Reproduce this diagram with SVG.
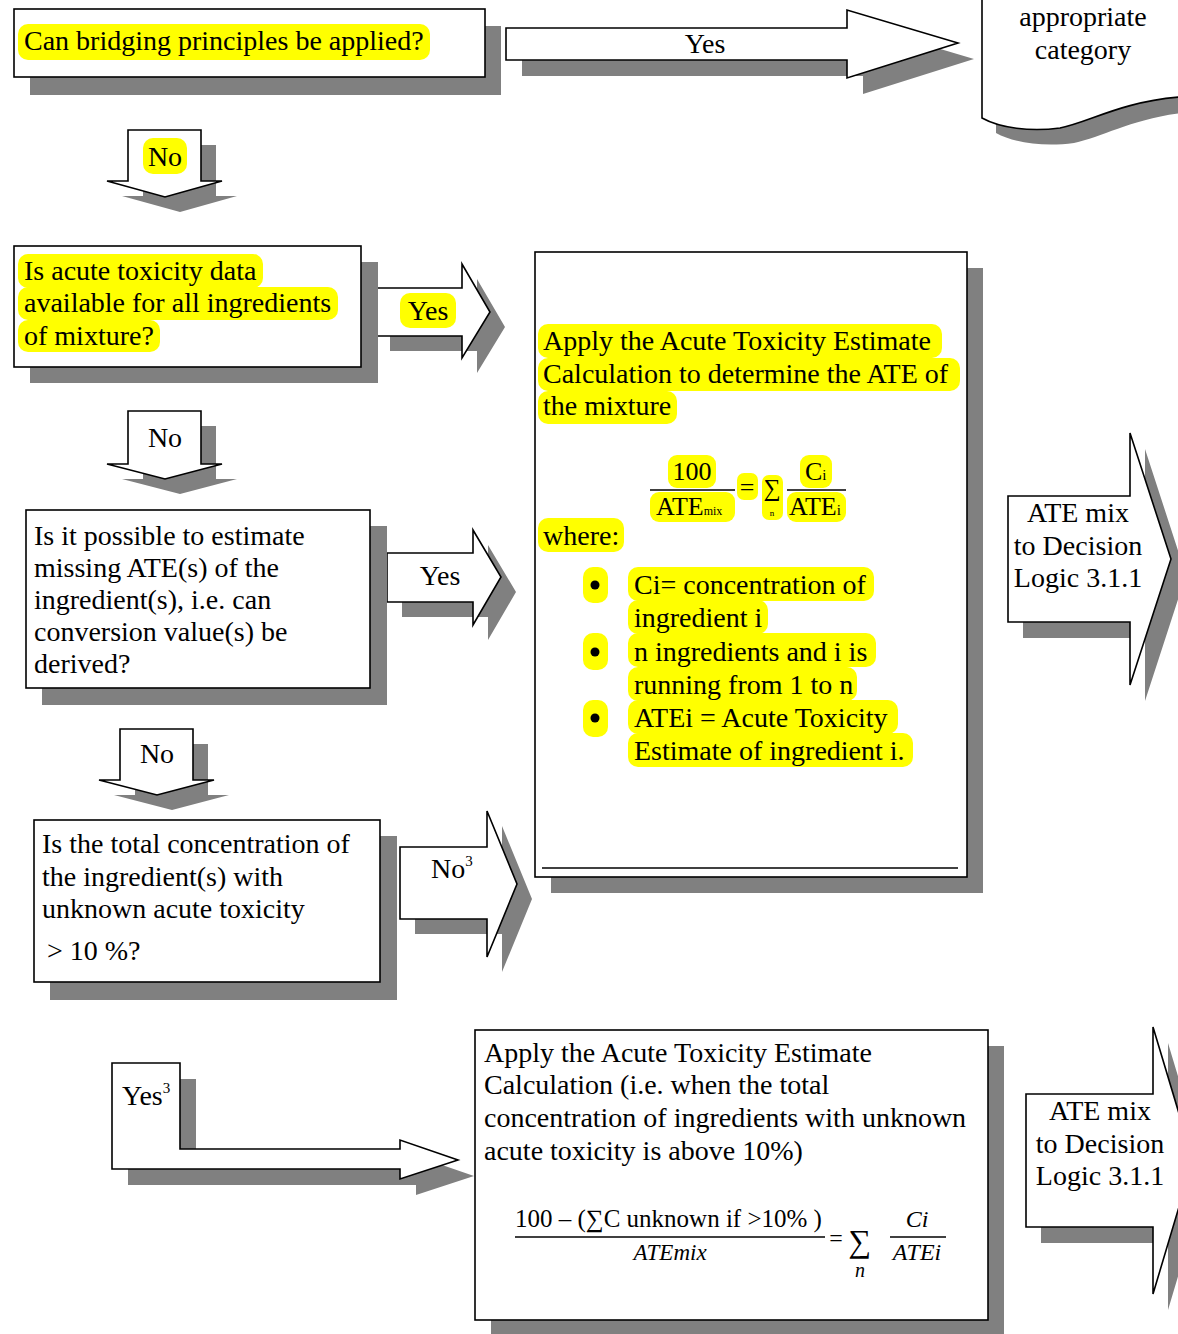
<svg xmlns="http://www.w3.org/2000/svg" width="1178" height="1334" viewBox="0 0 1178 1334">
<style>
.t{font-family:"Liberation Serif","Tinos","Times New Roman","DejaVu Serif",serif;font-size:28px;fill:#000}
.m{text-anchor:middle}
.sh{fill:#808080;stroke:none}
.sp{fill:#fff;stroke:#000;stroke-width:1.6}
.hl{fill:#ffff00;stroke:none}
.it{font-style:italic}
</style>
<rect width="1178" height="1334" fill="#fff"/>

<g id="connectors">
  <g id="arrow-yes-1">
    <path class="sh" d="M522,44 H863 V26 L974,59 L863,94 V76 H522 Z"/>
    <path class="sp" d="M506,28 H847 V10 L958,43 L847,78 V60 H506 Z"/>
    <text class="t m" x="705" y="53">Yes</text>
  </g>
  <g id="arrow-no-1">
    <path class="sh" d="M143,145 H216 V196 H237 L180,212 L122,196 H143 Z"/>
    <path class="sp" d="M128,130 H201 V181 H222 L165,197 L107,181 H128 Z"/>
    <rect class="hl" x="143" y="138" width="44" height="36" rx="10"/>
    <text class="t m" x="165" y="166">No</text>
  </g>
  <g id="arrow-yes-2">
    <path class="sh" d="M390,303 H477 V279 L505,327 L477,373 V351 H390 Z"/>
    <path class="sp" d="M375,288 H462 V264 L490,312 L462,358 V336 H375 Z"/>
    <rect class="hl" x="400" y="293" width="56" height="35" rx="10"/>
    <text class="t m" x="428" y="320">Yes</text>
  </g>
  <g id="arrow-no-2">
    <path class="sh" d="M143,426 H216 V479 H237 L180,494 L122,479 H143 Z"/>
    <path class="sp" d="M128,411 H201 V464 H222 L165,479 L107,464 H128 Z"/>
    <text class="t m" x="165" y="447">No</text>
  </g>
  <g id="arrow-yes-3">
    <path class="sh" d="M402,568 H488 V545 L516,592 L488,640 V617 H402 Z"/>
    <path class="sp" d="M387,553 H473 V530 L501,577 L473,625 V602 H387 Z"/>
    <text class="t m" x="440" y="585">Yes</text>
  </g>
  <g id="arrow-no-3">
    <path class="sh" d="M135,744 H208 V795 H229 L172,810 L114,795 H135 Z"/>
    <path class="sp" d="M120,729 H193 V780 H214 L157,795 L99,780 H120 Z"/>
    <text class="t m" x="157" y="763">No</text>
  </g>
  <g id="arrow-no3">
    <path class="sh" d="M415,862 H502 V826 L532,899 L502,972 V934 H415 Z"/>
    <path class="sp" d="M400,847 H487 V811 L517,884 L487,957 V919 H400 Z"/>
    <text class="t" x="431" y="878">No<tspan style="font-size:15px" dy="-12">3</tspan></text>
  </g>
  <g id="arrow-yes3">
    <path class="sh" d="M128,1079 H196 V1165 H416 V1156 L474,1176 L416,1195 V1185 H128 Z"/>
    <path class="sp" d="M112,1063 H180 V1149 H400 V1140 L458,1160 L400,1179 V1169 H112 Z"/>
    <text class="t" x="122" y="1105">Yes<tspan style="font-size:15px" dy="-12">3</tspan></text>
  </g>
  <g id="arrow-ate-1">
    <path class="sh" d="M1023,512 H1145 V449 L1186,575 L1145,701 V638 H1023 Z"/>
    <path class="sp" d="M1008,496 H1130 V433 L1171,559 L1130,685 V622 H1008 Z"/>
    <text class="t m" x="1078" y="522">ATE mix</text>
    <text class="t m" x="1078" y="555">to Decision</text>
    <text class="t m" x="1078" y="587">Logic 3.1.1</text>
  </g>
  <g id="arrow-ate-2">
    <path class="sh" d="M1041,1110 H1168 V1043 L1208,1176 L1168,1310 V1243 H1041 Z"/>
    <path class="sp" d="M1026,1094 H1153 V1027 L1193,1160 L1153,1294 V1227 H1026 Z"/>
    <text class="t m" x="1100" y="1120">ATE mix</text>
    <text class="t m" x="1100" y="1153">to Decision</text>
    <text class="t m" x="1100" y="1185">Logic 3.1.1</text>
  </g>
</g>

<g id="node-bridging">
  <rect class="sh" x="30" y="26" width="471" height="69"/>
  <rect class="sp" x="14" y="9" width="471" height="68"/>
  <rect class="hl" x="18" y="24" width="412" height="36" rx="10"/>
  <text class="t" x="24" y="50">Can bridging principles be applied?</text>
</g>

<g id="node-category">
  <path class="sh" d="M996,0 V133 C1014,143 1044,147 1074,143 C1104,137 1134,117 1192,112 V0 Z"/>
  <path class="sp" d="M982,-2 V118 C1000,128 1030,132 1060,128 C1090,122 1120,102 1180,97 V-2 Z"/>
  <text class="t m" x="1083" y="26">appropriate</text>
  <text class="t m" x="1083" y="59">category</text>
</g>

<g id="node-data-available">
  <rect class="sh" x="30" y="262" width="348" height="121"/>
  <rect class="sp" x="14" y="246" width="347" height="121"/>
  <rect class="hl" x="18" y="254" width="245" height="34" rx="10"/>
  <rect class="hl" x="18" y="287" width="320" height="33" rx="10"/>
  <rect class="hl" x="18" y="320" width="142" height="32" rx="10"/>
  <text class="t" x="24" y="280">Is acute toxicity data</text>
  <text class="t" x="24" y="312">available for all ingredients</text>
  <text class="t" x="24" y="345">of mixture?</text>
</g>

<g id="node-apply-ate">
  <rect class="sh" x="551" y="268" width="432" height="625"/>
  <rect class="sp" x="535" y="252" width="432" height="625"/>
  <line x1="542" y1="868" x2="958" y2="868" stroke="#000" stroke-width="1.6"/>
  <rect class="hl" x="538" y="324" width="404" height="34" rx="10"/>
  <rect class="hl" x="538" y="358" width="422" height="33" rx="10"/>
  <rect class="hl" x="538" y="391" width="139" height="33" rx="10"/>
  <text class="t" x="543" y="350">Apply the Acute Toxicity Estimate</text>
  <text class="t" x="543" y="383">Calculation to determine the ATE of</text>
  <text class="t" x="543" y="415">the mixture</text>
  <rect class="hl" x="668" y="455" width="48" height="33" rx="9"/>
  <rect class="hl" x="650" y="492" width="85" height="30" rx="9"/>
  <rect class="hl" x="737" y="473" width="21" height="27" rx="7"/>
  <rect class="hl" x="762" y="475" width="21" height="45" rx="7"/>
  <rect class="hl" x="800" y="455" width="32" height="33" rx="9"/>
  <rect class="hl" x="787" y="492" width="59" height="30" rx="9"/>
  <text class="t m" x="692" y="480" style="font-size:26px">100</text>
  <line x1="650" y1="490" x2="735" y2="490" stroke="#000" stroke-width="1.5"/>
  <text class="t" x="656" y="515" style="font-size:26px">ATE<tspan style="font-size:12px">mix</tspan></text>
  <text class="t m" x="747" y="496" style="font-size:26px">=</text>
  <text class="t m" x="772" y="496" style="font-size:24px">∑</text>
  <text class="t m" x="772" y="516" style="font-size:9px">n</text>
  <text class="t" x="805" y="480" style="font-size:26px">C<tspan style="font-size:15px">i</tspan></text>
  <line x1="787" y1="490" x2="846" y2="490" stroke="#000" stroke-width="1.5"/>
  <text class="t" x="789" y="515" style="font-size:26px">ATE<tspan style="font-size:15px">i</tspan></text>
  <rect class="hl" x="538" y="518" width="86" height="34" rx="10"/>
  <text class="t" x="543" y="545">where:</text>
  <rect class="hl" x="583" y="567" width="25" height="36" rx="10"/>
  <rect class="hl" x="583" y="633" width="25" height="37" rx="10"/>
  <rect class="hl" x="583" y="700" width="25" height="37" rx="10"/>
  <circle cx="595" cy="585" r="4.5"/>
  <circle cx="595" cy="652" r="4.5"/>
  <circle cx="595" cy="718" r="4.5"/>
  <rect class="hl" x="628" y="567" width="246" height="34" rx="10"/>
  <rect class="hl" x="628" y="600" width="140" height="34" rx="10"/>
  <rect class="hl" x="628" y="633" width="248" height="34" rx="10"/>
  <rect class="hl" x="628" y="667" width="229" height="34" rx="10"/>
  <rect class="hl" x="628" y="700" width="270" height="34" rx="10"/>
  <rect class="hl" x="628" y="733" width="285" height="34" rx="10"/>
  <text class="t" x="634" y="594">Ci= concentration of</text>
  <text class="t" x="634" y="627">ingredient i</text>
  <text class="t" x="634" y="661">n ingredients and i is</text>
  <text class="t" x="634" y="694">running from 1 to n</text>
  <text class="t" x="634" y="727">ATEi = Acute Toxicity</text>
  <text class="t" x="634" y="760">Estimate of ingredient i.</text>
</g>

<g id="node-estimate-missing">
  <rect class="sh" x="42" y="526" width="345" height="179"/>
  <rect class="sp" x="26" y="510" width="344" height="178"/>
  <text class="t" x="34" y="545">Is it possible to estimate</text>
  <text class="t" x="34" y="577">missing ATE(s) of the</text>
  <text class="t" x="34" y="609">ingredient(s), i.e. can</text>
  <text class="t" x="34" y="641">conversion value(s) be</text>
  <text class="t" x="34" y="673">derived?</text>
</g>

<g id="node-total-concentration">
  <rect class="sh" x="50" y="836" width="347" height="164"/>
  <rect class="sp" x="34" y="820" width="346" height="162"/>
  <text class="t" x="42" y="853">Is the total concentration of</text>
  <text class="t" x="42" y="886">the ingredient(s) with</text>
  <text class="t" x="42" y="918">unknown acute toxicity</text>
  <text class="t" x="47" y="960">&gt; 10 %?</text>
</g>

<g id="node-apply-ate-unknown">
  <rect class="sh" x="491" y="1046" width="513" height="300"/>
  <rect class="sp" x="475" y="1030" width="513" height="290"/>
  <text class="t" x="484" y="1062">Apply the Acute Toxicity Estimate</text>
  <text class="t" x="484" y="1094">Calculation (i.e. when the total</text>
  <text class="t" x="484" y="1127">concentration of ingredients with unknown</text>
  <text class="t" x="484" y="1160">acute toxicity is above 10%)</text>
  <text class="t" x="515" y="1227" style="font-size:25px">100 – (∑C unknown if &gt;10%  )</text>
  <line x1="515" y1="1237" x2="825" y2="1237" stroke="#000" stroke-width="1.5"/>
  <text class="t it m" x="670" y="1260" style="font-size:23px">ATEmix</text>
  <text class="t m" x="836" y="1246" style="font-size:24px">=</text>
  <text class="t m" x="860" y="1252" style="font-size:32px">∑</text>
  <text class="t it m" x="860" y="1277" style="font-size:20px">n</text>
  <text class="t it m" x="917" y="1227" style="font-size:24px">Ci</text>
  <line x1="890" y1="1237" x2="946" y2="1237" stroke="#000" stroke-width="1.5"/>
  <text class="t it m" x="917" y="1260" style="font-size:24px">ATEi</text>
</g>
</svg>
